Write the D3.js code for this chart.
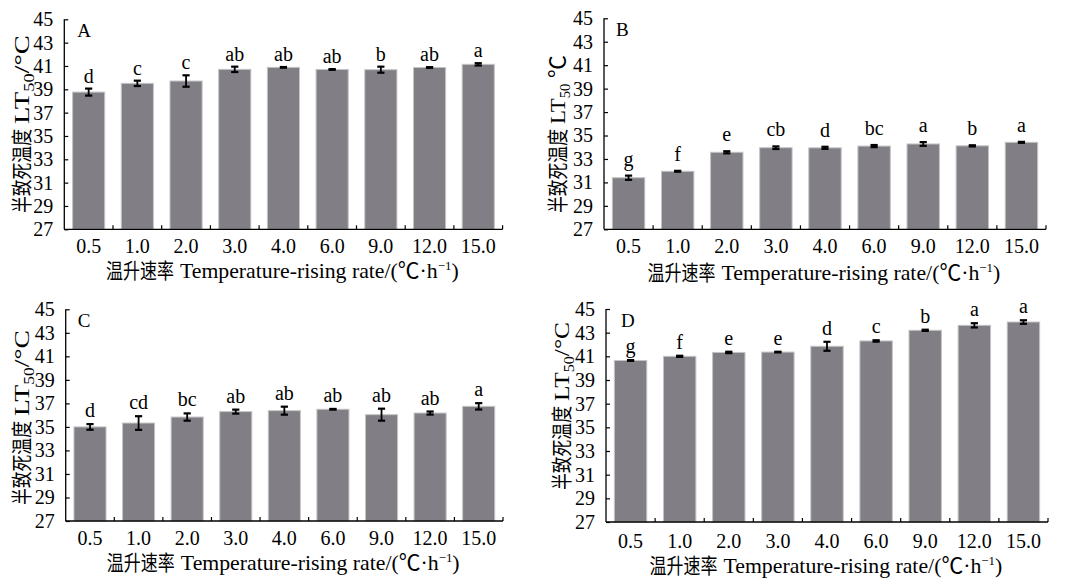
<!DOCTYPE html>
<html><head><meta charset="utf-8">
<script src="https://cdn.jsdelivr.net/npm/d3@7"></script>
<style>
body{margin:0;background:#fff}
svg text{font-family:"Liberation Serif","Noto Sans CJK SC",serif;fill:#000}
</style>
</head><body>
<svg id="c" width="1067" height="581"></svg>
<script>
const categories = ["0.5","1.0","2.0","3.0","4.0","6.0","9.0","12.0","15.0"];
const yTickValues = [27,29,31,33,35,37,39,41,43,45];
const panelLetters = ["A","B","C","D"];
const xTitleCn = "温升速率";
const xTitleEn = "Temperature-rising rate/(℃·h";
const xTitleSup = "−1";
const yTitleCn = "半致死温度";
const yTitleEn = "LT";
const yTitleSub = "50";
const yTitleUnits = ["/°C", " ℃", "/°C", "/°C"];

const meansA = [38.76,39.51,39.71,40.71,40.88,40.70,40.68,40.87,41.14];
const errA   = [0.30,0.23,0.49,0.23,0.03,0.03,0.26,0.03,0.10];
const sigA   = ["d","c","c","ab","ab","ab","b","ab","a"];

const meansB = [31.40,31.95,33.57,33.96,33.95,34.10,34.28,34.12,34.42];
const errB   = [0.18,0.04,0.09,0.11,0.09,0.09,0.16,0.05,0.04];
const sigB   = ["g","f","e","cb","d","bc","a","b","a"];

const meansC = [35.00,35.33,35.84,36.30,36.38,36.50,36.04,36.18,36.75];
const errC   = [0.24,0.58,0.31,0.17,0.34,0.03,0.51,0.13,0.27];
const sigC   = ["d","cd","bc","ab","ab","ab","ab","ab","a"];

const meansD = [40.65,41.00,41.33,41.36,41.85,42.30,43.20,43.62,43.90];
const errD   = [0.03,0.05,0.06,0.03,0.38,0.06,0.05,0.18,0.15];
const sigD   = ["g","f","e","e","d","c","b","a","a"];

const panels = [
  {means: meansA, errs: errA, sig: sigA, x0: 64.3, x1: 502.6, yTop: 19.3, yBot: 229.3, gap: 6,
   letterDx: 13, yTitleX: 22, yTitleBot: 213, yTitleLen: 178, xTitleY: 278, xTickY: 253},
  {means: meansB, errs: errB, sig: sigB, x0: 604, x1: 1046, yTop: 18.3, yBot: 229.3, gap: 10,
   letterDx: 12, yTitleX: 558, yTitleBot: 213, yTitleLen: 158, xTitleY: 280, xTickY: 253},
  {means: meansC, errs: errC, sig: sigC, x0: 65.7, x1: 503, yTop: 309.3, yBot: 521, gap: 7,
   letterDx: 12, yTitleX: 22, yTitleBot: 505, yTitleLen: 175, xTitleY: 570, xTickY: 545},
  {means: meansD, errs: errD, sig: sigD, x0: 606, x1: 1048, yTop: 309, yBot: 522, gap: 7,
   letterDx: 15, yTitleX: 562, yTitleBot: 490, yTitleLen: 168, xTitleY: 573, xTickY: 548}
];

const svg = d3.select("#c");
svg.append("rect").attr("width",1067).attr("height",581).attr("fill","#fff");

panels.forEach((p, pi) => {
  const g = svg.append("g");
  const x = d3.scaleBand().domain(categories).range([p.x0, p.x1]).paddingInner(0.34).paddingOuter(0.17);
  const y = d3.scaleLinear().domain([27,45]).range([p.yBot, p.yTop]);

  // bars
  g.selectAll("rect.bar").data(p.means).join("rect")
    .attr("class","bar")
    .attr("x",(d,i)=>x(categories[i]))
    .attr("width",x.bandwidth())
    .attr("y",d=>y(d))
    .attr("height",d=>y(27)-y(d))
    .attr("fill","#817f85")
    .attr("stroke","#c4c4c4").attr("stroke-width",1);

  // error bars
  const eb = g.selectAll("g.err").data(p.means).join("g").attr("class","err");
  const cx = i => x(categories[i]) + x.bandwidth()/2;
  eb.append("line")
    .attr("x1",(d,i)=>cx(i)).attr("x2",(d,i)=>cx(i))
    .attr("y1",(d,i)=>y(d - p.errs[i])).attr("y2",(d,i)=>y(d + p.errs[i]))
    .attr("stroke","#000").attr("stroke-width",1.8);
  [1,-1].forEach(s => {
    eb.append("line")
      .attr("x1",(d,i)=>cx(i)-3.6).attr("x2",(d,i)=>cx(i)+3.6)
      .attr("y1",(d,i)=>y(d + s*p.errs[i])).attr("y2",(d,i)=>y(d + s*p.errs[i]))
      .attr("stroke","#000").attr("stroke-width",2.2);
  });

  // significance letters
  g.selectAll("text.sig").data(p.means).join("text")
    .attr("class","sig")
    .attr("x",(d,i)=>cx(i))
    .attr("y",(d,i)=>y(d + p.errs[i]) - p.gap)
    .attr("text-anchor","middle")
    .attr("font-size",20)
    .text((d,i)=>p.sig[i]);

  // y axis
  const yAxis = d3.axisLeft(y).tickValues(yTickValues).tickSize(-4).tickPadding(11).tickFormat(d3.format("d"));
  const ya = g.append("g").attr("transform",`translate(${p.x0},0)`).call(yAxis);
  ya.select(".domain").attr("d",`M0,${p.yTop}V${p.yBot}`).attr("stroke","#000").attr("stroke-width",1.3);
  ya.selectAll(".tick line").attr("stroke","#000").attr("stroke-width",1.2);
  ya.selectAll(".tick text").attr("font-size",20).attr("font-family",'"Liberation Serif",serif').attr("fill","#000");

  // x axis
  const xa = g.append("g").attr("transform",`translate(0,${p.yBot})`);
  xa.append("path").attr("d",`M${p.x0},0H${p.x1}`).attr("stroke","#000").attr("stroke-width",1.3).attr("fill","none");
  const step = x.step();
  const bounds = d3.range(1, categories.length+1).map(k => p.x0 + k*step);
  xa.selectAll("line.xt").data(bounds).join("line").attr("class","xt")
    .attr("x1",d=>d).attr("x2",d=>d).attr("y1",0).attr("y2",-4)
    .attr("stroke","#000").attr("stroke-width",1.2);
  g.selectAll("text.xl").data(categories).join("text").attr("class","xl")
    .attr("x",d=>x(d)+x.bandwidth()/2).attr("y",p.xTickY)
    .attr("text-anchor","middle").attr("font-size",20).text(d=>d);

  // panel letter
  g.append("text").attr("x",p.x0+p.letterDx).attr("y",p.yTop+17.5)
    .attr("font-size",19).text(panelLetters[pi]);

  // x title: Chinese part + Latin part
  const xTarget = 353, cnLen = 68, gapLen = 6;
  const xStart = (p.x0 + p.x1)/2 - 1 - xTarget/2;
  const xcn = g.append("text").attr("font-size",21).text(xTitleCn);
  const xcnW = xcn.node().getComputedTextLength();
  xcn.attr("transform",`translate(${xStart},${p.xTitleY}) scale(${cnLen/xcnW},1)`);
  const xen = g.append("text").attr("font-size",22);
  xen.append("tspan").text(xTitleEn);
  xen.append("tspan").attr("font-size",13).attr("dy",-8).text(xTitleSup);
  xen.append("tspan").attr("dy",8).text(")");
  const xenW = xen.node().getComputedTextLength();
  const enLen = xTarget - cnLen - gapLen;
  xen.attr("transform",`translate(${xStart+cnLen+gapLen},${p.xTitleY}) scale(${enLen/xenW},1)`);

  // y title (rotated): Chinese part + Latin part
  const yCnLen = 84, yGap = 5;
  const ycn = g.append("text").attr("font-size",21).text(yTitleCn);
  const ycnW = ycn.node().getComputedTextLength();
  ycn.attr("transform",`translate(${p.yTitleX+7},${p.yTitleBot}) rotate(-90) scale(${yCnLen/ycnW},1)`);
  const yen = g.append("text").attr("font-size",22);
  yen.append("tspan").text(yTitleEn);
  yen.append("tspan").attr("font-size",14).attr("dy",5).text(yTitleSub);
  yen.append("tspan").attr("dy",-5).text(yTitleUnits[pi]);
  const yenW = yen.node().getComputedTextLength();
  const yEnLen = p.yTitleLen - yCnLen - yGap;
  yen.attr("transform",`translate(${p.yTitleX+7},${p.yTitleBot - yCnLen - yGap}) rotate(-90) scale(${yEnLen/yenW},1)`);
});
</script>
</body></html>
